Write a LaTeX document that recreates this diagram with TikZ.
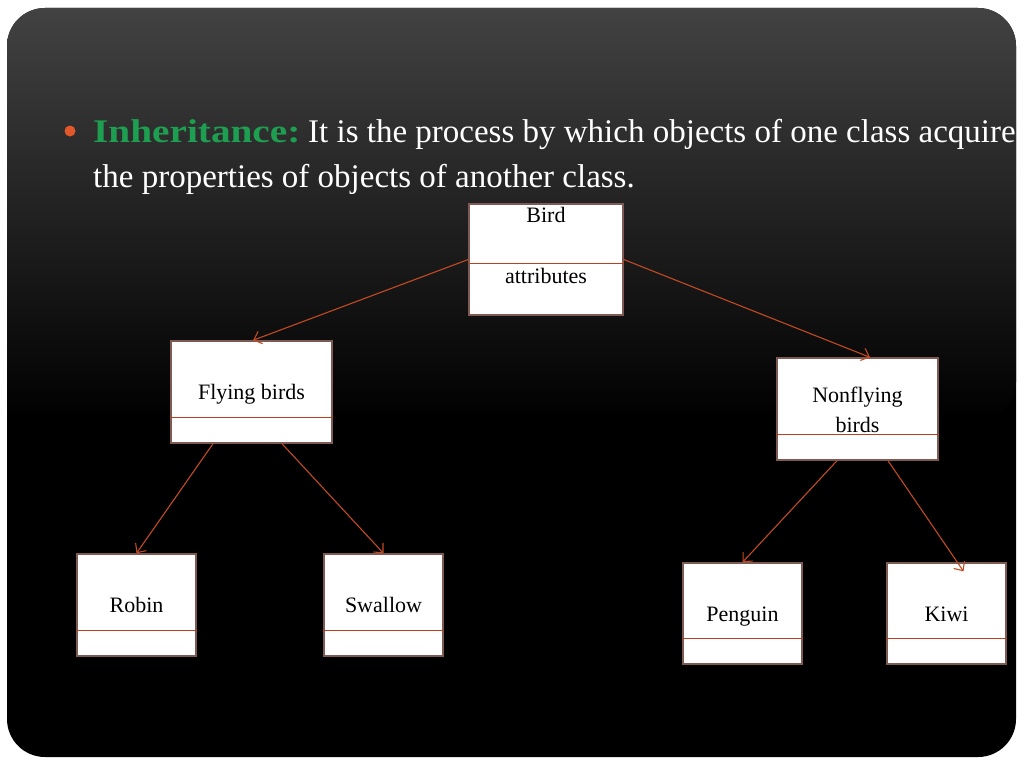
\documentclass[tikz,border=0pt]{standalone}
\usepackage{fontspec}
\setmainfont{Liberation Serif}
\usetikzlibrary{arrows.meta}
\definecolor{arrc}{HTML}{C24A22}
\definecolor{divc}{HTML}{B8401E}
\definecolor{boxc}{HTML}{7E5A52}
\definecolor{greenc}{HTML}{1E9E50}
\definecolor{bulletc}{HTML}{E2582A}
\definecolor{topgray}{HTML}{424242}
\tikzset{
  cls/.style={draw=boxc, line width=1.4pt, fill=white, inner sep=0pt},
  div/.style={draw=divc, line width=1.1pt},
  conn/.style={draw=arrc, line width=1.1pt, -{Straight Barb[length=7pt,width=13pt,line width=1.1pt]}},
  lbl/.style={anchor=base, inner sep=0pt, font=\fontsize{22}{26}\selectfont, text=black},
  title/.style={anchor=base west, inner sep=0pt, font=\fontsize{33}{40}\selectfont, text=white}
}
\begin{document}
\begin{tikzpicture}[x=1pt,y=-1pt]
\useasboundingbox[fill=white] (0,0) rectangle (1024,768);
\fill[black, rounded corners=38pt] (7,8) rectangle (1016,757);
\path[rounded corners=38pt, top color=topgray, bottom color=black] (7,8) -- (1016,8) -- (1016,420) [sharp corners] -- (7,420) [rounded corners=38pt] -- cycle;

% title text
\fill[bulletc] (70,131) circle (5.5);
\node[title] (t1a) at (93,142) {\scalebox{1.19}[1]{\textcolor{greenc}{\bfseries Inheritance:}}};
\node[title] (t1b) at (308,142) {It is the process by which objects of one class acquire};
\node[title] (t2) at (93,187) {the properties of objects of another class.};

% boxes
\node[cls, minimum width=154, minimum height=111] (bird) at (546,259.5) {};
\node[cls, minimum width=161, minimum height=102] (fly) at (251.5,392) {};
\node[cls, minimum width=161, minimum height=102] (nonfly) at (857.5,409) {};
\node[cls, minimum width=119, minimum height=102] (robin) at (136.5,605) {};
\node[cls, minimum width=119, minimum height=102] (swallow) at (383.5,605) {};
\node[cls, minimum width=119, minimum height=101] (penguin) at (742.5,613.5) {};
\node[cls, minimum width=119, minimum height=101] (kiwi) at (946.5,613.5) {};

% dividers
\draw[div] ([yshift=-60pt]bird.north west) -- ([yshift=-60pt]bird.north east);
\draw[div] ([yshift=-77pt]fly.north west) -- ([yshift=-77pt]fly.north east);
\draw[div] ([yshift=-77pt]nonfly.north west) -- ([yshift=-77pt]nonfly.north east);
\draw[div] ([yshift=-77pt]robin.north west) -- ([yshift=-77pt]robin.north east);
\draw[div] ([yshift=-77pt]swallow.north west) -- ([yshift=-77pt]swallow.north east);
\draw[div] ([yshift=-76pt]penguin.north west) -- ([yshift=-76pt]penguin.north east);
\draw[div] ([yshift=-76pt]kiwi.north west) -- ([yshift=-76pt]kiwi.north east);

% labels
\node[lbl] (lbird) at (546,222) {Bird};
\node[lbl] (lattr) at (546,283) {attributes};
\node[lbl] (lfly) at (251.5,399) {Flying birds};
\node[lbl] (lnon1) at (857.5,402) {Nonflying};
\node[lbl] (lnon2) at (857.5,432) {birds};
\node[lbl] (lrobin) at (136.5,612) {Robin};
\node[lbl] (lswallow) at (383.5,612) {Swallow};
\node[lbl] (lpenguin) at (742.5,621) {Penguin};
\node[lbl] (lkiwi) at (946.5,621) {Kiwi};

% connectors
\draw[conn] (bird.west) -- ([xshift=1.5pt]fly.north);
\draw[conn] (bird.east) -- ([xshift=12.5pt]nonfly.north);
\draw[conn] ([xshift=-38.5pt]fly.south) -- (robin.north);
\draw[conn] ([xshift=30.5pt]fly.south) -- (swallow.north);
\draw[conn] ([xshift=-20.5pt]nonfly.south) -- (penguin.north);
\draw[conn] ([xshift=30.5pt]nonfly.south) -- ([xshift=17pt,yshift=-9pt]kiwi.north);
\end{tikzpicture}
\end{document}
